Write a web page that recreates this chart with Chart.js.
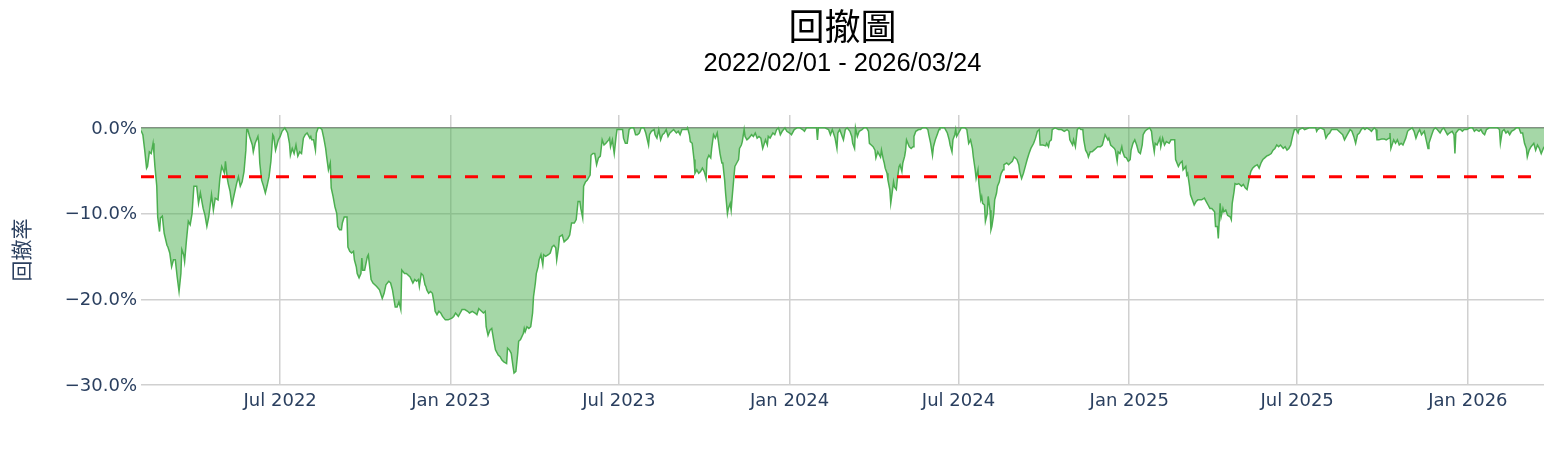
<!DOCTYPE html>
<html>
<head>
<meta charset="utf-8">
<script src="https://cdn.jsdelivr.net/npm/chart.js@4.4.1/dist/chart.umd.min.js"></script>
<style>
  html, body { margin: 0; padding: 0; background: #fff; }
  #box { width: 1555px; height: 449px; position: relative; }
</style>
</head>
<body>
<div id="box"><canvas id="chart"></canvas></div>
<script>
// 回撤資料 (每月一行,日期與數值一一對應)
const dates = [
  '2022-02-01','2022-02-03','2022-02-05','2022-02-07','2022-02-08','2022-02-10','2022-02-12','2022-02-14','2022-02-15','2022-02-16','2022-02-18','2022-02-19','2022-02-21','2022-02-22','2022-02-24','2022-02-26',
  '2022-03-01','2022-03-02','2022-03-04','2022-03-06','2022-03-08','2022-03-10','2022-03-12','2022-03-14','2022-03-16','2022-03-17','2022-03-19','2022-03-20','2022-03-22','2022-03-24','2022-03-26','2022-03-28','2022-03-30',
  '2022-04-02','2022-04-04','2022-04-06','2022-04-09','2022-04-11','2022-04-13','2022-04-15','2022-04-18','2022-04-20','2022-04-22','2022-04-25','2022-04-27','2022-04-29',
  '2022-05-02','2022-05-03','2022-05-05','2022-05-06','2022-05-08','2022-05-10','2022-05-12','2022-05-15','2022-05-17','2022-05-19','2022-05-21','2022-05-23','2022-05-25','2022-05-26','2022-05-27','2022-05-29',
  '2022-06-01','2022-06-02','2022-06-04','2022-06-07','2022-06-08','2022-06-09','2022-06-11','2022-06-13','2022-06-15','2022-06-17','2022-06-19','2022-06-21','2022-06-23','2022-06-24','2022-06-26','2022-06-29',
  '2022-07-01','2022-07-03','2022-07-06','2022-07-09','2022-07-11','2022-07-12','2022-07-14','2022-07-16','2022-07-18','2022-07-20','2022-07-22','2022-07-24','2022-07-26','2022-07-28','2022-07-30',
  '2022-08-02','2022-08-03','2022-08-04','2022-08-06','2022-08-08','2022-08-09','2022-08-11','2022-08-13','2022-08-15','2022-08-17','2022-08-19','2022-08-20','2022-08-22','2022-08-24','2022-08-25','2022-08-27','2022-08-29','2022-08-31',
  '2022-09-01','2022-09-03','2022-09-05','2022-09-06','2022-09-08','2022-09-11','2022-09-12','2022-09-14','2022-09-16','2022-09-18','2022-09-19','2022-09-21','2022-09-22','2022-09-24','2022-09-26','2022-09-27','2022-09-28','2022-09-30',
  '2022-10-03','2022-10-04','2022-10-05','2022-10-07','2022-10-09','2022-10-13','2022-10-16','2022-10-19','2022-10-21','2022-10-23','2022-10-26','2022-10-28','2022-10-30',
  '2022-11-02','2022-11-04','2022-11-06','2022-11-08','2022-11-09','2022-11-12','2022-11-14','2022-11-16','2022-11-18','2022-11-21','2022-11-23','2022-11-25','2022-11-27','2022-11-28','2022-11-30',
  '2022-12-02','2022-12-04','2022-12-05','2022-12-06','2022-12-08','2022-12-10','2022-12-12','2022-12-14','2022-12-15','2022-12-17','2022-12-19','2022-12-21','2022-12-23','2022-12-26','2022-12-29',
  '2023-01-02','2023-01-04','2023-01-06','2023-01-09','2023-01-11','2023-01-13','2023-01-16','2023-01-19','2023-01-21','2023-01-24','2023-01-27','2023-01-29','2023-01-31',
  '2023-02-03','2023-02-05','2023-02-07','2023-02-08','2023-02-10','2023-02-12','2023-02-14','2023-02-16','2023-02-18','2023-02-21','2023-02-23','2023-02-25','2023-02-27',
  '2023-03-02','2023-03-03','2023-03-05','2023-03-07','2023-03-09','2023-03-10','2023-03-12','2023-03-14','2023-03-15','2023-03-17','2023-03-20','2023-03-21','2023-03-22','2023-03-24','2023-03-26','2023-03-28','2023-03-30','2023-03-31',
  '2023-04-02','2023-04-03','2023-04-05','2023-04-06','2023-04-08','2023-04-10','2023-04-11','2023-04-13','2023-04-16','2023-04-18','2023-04-20','2023-04-22','2023-04-24','2023-04-25','2023-04-27','2023-04-28',
  '2023-05-01','2023-05-03','2023-05-05','2023-05-07','2023-05-09','2023-05-11','2023-05-14','2023-05-16','2023-05-18','2023-05-20','2023-05-21','2023-05-23','2023-05-24','2023-05-26','2023-05-28','2023-05-31',
  '2023-06-01','2023-06-03','2023-06-05','2023-06-07','2023-06-09','2023-06-11','2023-06-13','2023-06-15','2023-06-17','2023-06-20','2023-06-21','2023-06-22','2023-06-24','2023-06-26','2023-06-28','2023-06-29',
  '2023-07-03','2023-07-05','2023-07-06','2023-07-08','2023-07-10','2023-07-12','2023-07-14','2023-07-17','2023-07-19','2023-07-21','2023-07-23','2023-07-25','2023-07-28','2023-07-30',
  '2023-08-02','2023-08-03','2023-08-05','2023-08-08','2023-08-09','2023-08-11','2023-08-13','2023-08-15','2023-08-17','2023-08-19','2023-08-21','2023-08-23','2023-08-25','2023-08-27','2023-08-29',
  '2023-09-01','2023-09-03','2023-09-05','2023-09-07','2023-09-10','2023-09-12','2023-09-13','2023-09-15','2023-09-16','2023-09-18','2023-09-20','2023-09-21','2023-09-23','2023-09-25','2023-09-27','2023-09-29',
  '2023-10-01','2023-10-03','2023-10-04','2023-10-06','2023-10-08','2023-10-09','2023-10-11','2023-10-13','2023-10-15','2023-10-16','2023-10-18','2023-10-20','2023-10-21','2023-10-23','2023-10-24','2023-10-26','2023-10-27','2023-10-29','2023-10-30','2023-10-31',
  '2023-11-02','2023-11-03','2023-11-05','2023-11-07','2023-11-08','2023-11-10','2023-11-11','2023-11-13','2023-11-14','2023-11-16','2023-11-18','2023-11-21','2023-11-23','2023-11-25','2023-11-27','2023-11-29',
  '2023-12-01','2023-12-03','2023-12-06','2023-12-08','2023-12-09','2023-12-11','2023-12-14','2023-12-16','2023-12-18','2023-12-20','2023-12-22','2023-12-24','2023-12-27','2023-12-29',
  '2024-01-01','2024-01-03','2024-01-06','2024-01-09','2024-01-12','2024-01-15','2024-01-17','2024-01-19','2024-01-25','2024-01-30','2024-01-31',
  '2024-02-01','2024-02-08','2024-02-12','2024-02-14','2024-02-16','2024-02-19','2024-02-21','2024-02-22','2024-02-24','2024-02-26','2024-02-28',
  '2024-03-01','2024-03-03','2024-03-06','2024-03-08','2024-03-09','2024-03-11','2024-03-12','2024-03-14','2024-03-16','2024-03-19','2024-03-21','2024-03-24','2024-03-26','2024-03-27','2024-03-29','2024-03-31',
  '2024-04-02','2024-04-03','2024-04-05','2024-04-06','2024-04-08','2024-04-09','2024-04-11','2024-04-12','2024-04-13','2024-04-15','2024-04-16','2024-04-18','2024-04-19','2024-04-20','2024-04-22','2024-04-23','2024-04-25','2024-04-26','2024-04-28','2024-04-29',
  '2024-05-01','2024-05-02','2024-05-04','2024-05-05','2024-05-06','2024-05-09','2024-05-11','2024-05-13','2024-05-14','2024-05-16','2024-05-19','2024-05-21','2024-05-23','2024-05-27','2024-05-29','2024-05-30',
  '2024-06-01','2024-06-03','2024-06-04','2024-06-06','2024-06-08','2024-06-10','2024-06-11','2024-06-16','2024-06-19','2024-06-21','2024-06-22','2024-06-24','2024-06-25','2024-06-27','2024-06-28','2024-06-29',
  '2024-07-02','2024-07-04','2024-07-08','2024-07-10','2024-07-12','2024-07-14','2024-07-16','2024-07-17','2024-07-19','2024-07-20','2024-07-22','2024-07-23','2024-07-25','2024-07-26','2024-07-27','2024-07-29','2024-07-30',
  '2024-08-01','2024-08-02','2024-08-04','2024-08-05','2024-08-06','2024-08-08','2024-08-09','2024-08-11','2024-08-12','2024-08-14','2024-08-15','2024-08-16','2024-08-18','2024-08-19','2024-08-22','2024-08-24','2024-08-26','2024-08-28','2024-08-30',
  '2024-09-02','2024-09-04','2024-09-05','2024-09-07','2024-09-09','2024-09-11','2024-09-13','2024-09-15','2024-09-17','2024-09-20','2024-09-22','2024-09-24','2024-09-26','2024-09-27','2024-09-30',
  '2024-10-03','2024-10-04','2024-10-06','2024-10-07','2024-10-09','2024-10-10','2024-10-13','2024-10-17','2024-10-20','2024-10-23','2024-10-26','2024-10-28','2024-10-29',
  '2024-11-01','2024-11-02','2024-11-04','2024-11-06','2024-11-08','2024-11-10','2024-11-12','2024-11-13','2024-11-15','2024-11-17','2024-11-18','2024-11-20','2024-11-22','2024-11-24','2024-11-26','2024-11-28',
  '2024-12-01','2024-12-03','2024-12-05','2024-12-06','2024-12-09','2024-12-10','2024-12-12','2024-12-14','2024-12-16','2024-12-17','2024-12-19','2024-12-20','2024-12-22','2024-12-24','2024-12-25','2024-12-27','2024-12-29','2024-12-31',
  '2025-01-02','2025-01-03','2025-01-05','2025-01-07','2025-01-09','2025-01-11','2025-01-13','2025-01-15','2025-01-16','2025-01-18','2025-01-20','2025-01-23','2025-01-25','2025-01-26','2025-01-28','2025-01-29','2025-01-31',
  '2025-02-03','2025-02-04','2025-02-06','2025-02-08','2025-02-10','2025-02-13','2025-02-15','2025-02-17','2025-02-19','2025-02-20','2025-02-23','2025-02-25','2025-02-27','2025-02-28',
  '2025-03-03','2025-03-04','2025-03-05','2025-03-07','2025-03-08','2025-03-10','2025-03-12','2025-03-14','2025-03-16','2025-03-18','2025-03-20','2025-03-23','2025-03-25','2025-03-27','2025-03-29','2025-03-31',
  '2025-04-03','2025-04-04','2025-04-06','2025-04-07','2025-04-09','2025-04-10','2025-04-12','2025-04-13','2025-04-15','2025-04-17','2025-04-20','2025-04-21','2025-04-22','2025-04-24','2025-04-25','2025-04-27','2025-04-29',
  '2025-05-02','2025-05-04','2025-05-06','2025-05-08','2025-05-10','2025-05-12','2025-05-14','2025-05-16','2025-05-19','2025-05-21','2025-05-23','2025-05-25','2025-05-27','2025-05-29','2025-05-31',
  '2025-06-03','2025-06-05','2025-06-07','2025-06-09','2025-06-11','2025-06-13','2025-06-16','2025-06-18','2025-06-20','2025-06-22','2025-06-24','2025-06-26','2025-06-28','2025-06-30',
  '2025-07-02','2025-07-03','2025-07-07','2025-07-09','2025-07-14','2025-07-21','2025-07-22','2025-07-23','2025-07-26','2025-07-30',
  '2025-08-01','2025-08-03','2025-08-05','2025-08-07','2025-08-10','2025-08-13','2025-08-15','2025-08-17','2025-08-19','2025-08-21','2025-08-24','2025-08-26','2025-08-27','2025-08-29','2025-08-31',
  '2025-09-02','2025-09-04','2025-09-06','2025-09-08','2025-09-10','2025-09-12','2025-09-14','2025-09-17','2025-09-19','2025-09-22','2025-09-24','2025-09-25','2025-09-27','2025-09-30',
  '2025-10-03','2025-10-05','2025-10-08','2025-10-09','2025-10-10','2025-10-13','2025-10-15','2025-10-17','2025-10-19','2025-10-21','2025-10-23','2025-10-26','2025-10-28','2025-10-30',
  '2025-11-02','2025-11-04','2025-11-06','2025-11-08','2025-11-10','2025-11-12','2025-11-15','2025-11-17','2025-11-19','2025-11-20','2025-11-23','2025-11-25','2025-11-27','2025-11-29',
  '2025-12-02','2025-12-04','2025-12-06','2025-12-08','2025-12-10','2025-12-12','2025-12-15','2025-12-17','2025-12-18','2025-12-19','2025-12-22','2025-12-24','2025-12-26','2025-12-28','2025-12-31',
  '2026-01-03','2026-01-06','2026-01-08','2026-01-10','2026-01-13','2026-01-15','2026-01-17','2026-01-19','2026-01-21','2026-01-24',
  '2026-02-02','2026-02-04','2026-02-05','2026-02-07','2026-02-09','2026-02-11','2026-02-13','2026-02-15','2026-02-17','2026-02-20','2026-02-22','2026-02-25','2026-02-27',
  '2026-03-01','2026-03-03','2026-03-05','2026-03-06','2026-03-08','2026-03-10','2026-03-13','2026-03-15','2026-03-17','2026-03-19','2026-03-21','2026-03-24'
];

const drawdown = [
  -0.3,-0.8,-2.6,-4.7,-4.5,-2.8,-3.0,-1.8,-3.0,-4.5,-6.8,-10.4,-12.1,-10.5,-10.3,-12.3,
  -13.7,-13.9,-14.6,-16.2,-15.4,-15.4,-17.4,-19.1,-17.0,-14.2,-14.8,-15.6,-13.1,-10.9,-11.3,-10.0,-6.8,
  -6.8,-8.8,-7.6,-9.4,-10.2,-11.5,-10.4,-7.8,-9.6,-8.2,-8.4,-5.9,-4.5,
  -5.3,-3.9,-5.9,-6.5,-7.4,-9.0,-8.0,-6.5,-5.7,-6.8,-6.3,-5.1,-2.6,-0.2,-0.2,-1.0,
  -2.0,-2.8,-1.8,-1.0,-1.8,-4.1,-6.1,-6.8,-7.6,-6.7,-5.7,-3.9,-0.8,-1.0,-2.6,-1.4,
  -1.0,-0.4,0,-0.6,-1.8,-3.2,-2.4,-3.0,-2.0,-3.3,-2.8,-3.0,-1.2,-0.8,-0.6,
  -1.2,-1.0,-1.4,-1.4,-2.6,-0.6,0,0,-0.2,-1.2,-2.4,-3.3,-4.9,-4.1,-7.0,-8.0,-9.2,-10.0,
  -11.5,-11.9,-11.9,-11.1,-10.4,-10.4,-13.9,-14.4,-14.6,-14.4,-15.4,-16.2,-17.0,-17.5,-17.0,-15.2,-16.6,-16.6,
  -15.0,-14.8,-15.8,-17.7,-18.1,-18.5,-18.9,-19.9,-19.3,-18.3,-17.9,-18.1,-18.9,
  -20.9,-20.9,-20.3,-21.2,-16.6,-17.0,-17.0,-17.2,-17.4,-18.1,-17.7,-17.9,-17.7,-18.5,-17.0,
  -17.2,-18.3,-18.5,-18.9,-19.3,-19.1,-19.3,-20.5,-21.4,-21.8,-21.4,-21.6,-22.0,-22.4,-22.4,
  -22.2,-22.0,-21.6,-22.0,-21.6,-21.2,-21.2,-21.4,-21.6,-21.4,-21.6,-21.8,-21.1,
  -21.4,-21.6,-21.4,-23.2,-24.2,-23.6,-23.4,-24.7,-25.9,-26.5,-26.7,-27.1,-27.3,
  -27.5,-25.7,-25.9,-26.3,-27.9,-28.6,-28.4,-26.3,-24.9,-24.7,-24.0,-23.4,-23.8,-23.2,-23.4,-23.2,-21.6,-19.7,
  -18.1,-17.0,-16.2,-15.4,-14.8,-16.0,-14.8,-15.0,-14.8,-14.6,-13.9,-13.7,-14.0,-15.4,-13.9,-12.7,
  -12.5,-13.3,-13.1,-12.9,-12.5,-11.1,-11.1,-10.7,-8.6,-8.6,-9.4,-10.5,-6.8,-6.3,-6.1,-5.5,
  -3.2,-3.0,-3.0,-4.3,-3.5,-3.3,-1.4,-2.0,-1.8,-1.4,-1.2,-2.2,-1.4,-3.0,-1.0,-0.2,
  -0.2,-0.2,-1.2,-1.8,-1.8,-0.2,0,0,-0.8,-0.8,-0.6,0,0,-0.6,
  -2.0,-0.8,-0.4,-0.2,-0.8,-1.2,-0.2,-1.4,-0.8,-0.6,-0.2,-1.0,-0.6,-0.4,-0.2,
  -0.6,-0.4,-0.8,-0.2,-0.2,-0.2,0,-0.8,-1.6,-1.8,-3.7,-5.3,-4.9,-5.3,-5.1,-4.7,
  -5.1,-5.9,-3.7,-3.2,-3.5,-2.4,-0.8,-1.2,-0.6,-1.4,-3.0,-4.1,-4.1,-6.1,-7.6,-10.0,-9.4,-8.8,-9.6,-8.2,
  -5.7,-4.5,-4.1,-3.7,-2.4,-2.0,-1.6,-0.2,-1.0,-1.4,-1.2,-0.8,-1.0,-0.6,-1.2,-1.0,
  -1.2,-2.4,-1.4,-2.0,-1.0,-1.2,-0.6,-0.8,-0.2,0,-0.8,-0.4,0,-0.4,
  -0.6,-0.8,-0.2,0,0,-0.2,-0.4,0,0,0,-1.4,
  0,0,-0.2,-0.8,-0.2,-1.2,-2.4,-0.6,-0.2,-0.8,-1.4,
  -0.2,0,-0.4,-1.0,-1.8,-2.4,0,-1.0,-0.4,-0.2,0,0,-0.4,-1.8,-2.0,-2.2,
  -2.6,-3.5,-2.8,-3.0,-3.4,-2.6,-3.7,-4.1,-4.7,-5.3,-6.1,-7.2,-8.8,-8.0,-6.3,-6.9,-7.2,-6.1,-4.5,-4.3,
  -5.1,-4.1,-3.3,-2.6,-1.4,-2.2,-2.4,-2.2,-1.0,-0.4,-0.2,-0.2,0,0,-0.2,-0.8,
  -1.8,-3.2,-2.2,-1.4,-0.8,-0.2,0,0,-0.6,-1.4,-2.0,-2.8,-1.4,-0.8,-0.2,-1.0,
  -0.4,0,0,-0.2,-1.8,-1.4,-2.4,-3.4,-4.9,-5.9,-4.9,-6.5,-8.4,-8.0,-8.8,-9.0,-10.9,
  -10.0,-8.0,-9.6,-11.9,-11.5,-10.0,-8.4,-7.6,-6.8,-6.3,-5.7,-5.3,-4.9,-4.3,-4.1,-4.3,-4.1,-3.9,-3.4,
  -3.7,-4.3,-5.1,-5.9,-5.3,-4.5,-3.7,-3.0,-2.4,-1.8,-1.2,-0.4,-0.2,-2.0,-2.0,
  -2.1,-1.8,-2.2,-1.6,-1.4,-0.2,0,-0.2,-0.2,-0.4,-0.2,-0.4,-1.4,
  -2.0,-1.4,-2.2,-0.2,0,-0.2,-0.2,-1.4,-2.6,-3.0,-3.4,-2.8,-2.8,-2.6,-2.4,-2.2,
  -2.2,-2.0,-1.2,-0.8,-1.4,-1.2,-2.0,-2.2,-2.4,-2.6,-3.9,-2.8,-3.0,-2.2,-2.8,-3.4,-3.5,-3.9,
  -3.7,-2.6,-1.8,-1.4,-2.0,-2.8,-3.0,-2.0,-0.8,-0.4,-0.2,0,-0.4,-1.4,-2.8,-1.8,-2.0,
  -1.2,-2.2,-1.2,-2.0,-1.6,-1.8,-1.4,-1.4,-1.4,-3.7,-4.5,-4.1,-3.9,-4.9,
  -4.5,-5.5,-5.3,-6.8,-7.8,-8.4,-9.0,-8.6,-8.4,-8.4,-8.4,-8.2,-8.6,-9.0,-9.4,-9.4,
  -9.8,-11.5,-11.5,-12.9,-8.8,-10.4,-9.4,-9.8,-9.6,-10.2,-10.4,-10.7,-8.8,-7.4,-6.5,-6.6,-6.5,
  -6.8,-6.6,-7.0,-7.2,-6.1,-5.1,-4.7,-4.5,-4.3,-4.7,-4.1,-3.7,-3.5,-3.3,-3.2,
  -3.0,-2.6,-2.4,-2.0,-2.2,-2.0,-2.4,-2.2,-2.6,-2.4,-2.0,-1.0,-0.2,-0.2,
  -0.6,-0.2,0,-0.2,0,0,-0.4,-0.2,0,-0.2,
  -1.2,-0.8,-0.6,-0.2,-0.2,-0.2,-0.4,-0.6,-0.8,-1.4,-0.8,-0.4,-0.2,-0.4,-1.0,
  -1.8,-0.8,-0.6,-0.2,0,-0.2,0,-0.2,-0.4,0,-0.2,-1.4,-1.4,-1.3,
  -1.3,-1.4,-1.2,-0.6,-2.4,-1.4,-1.8,-1.4,-2.0,-1.8,-2.0,-1.2,-0.4,-0.2,
  0,-0.4,-1.2,-0.6,-0.2,-0.8,-0.4,-1.4,-2.4,-1.8,-0.8,-0.2,0,-0.2,
  -0.6,-0.2,0,-0.4,-0.8,-0.6,-0.4,-0.8,-3.0,-0.6,-0.2,-0.2,-0.4,-0.2,-0.2,
  0,0,-0.4,-0.2,-0.4,-0.2,-0.6,-0.8,-0.2,0,
  0,-0.2,-1.8,-0.4,-0.2,-0.6,-0.4,-0.8,-0.4,-0.2,0,0,-0.6,
  -0.6,-1.8,-2.4,-3.4,-2.6,-2.2,-1.8,-2.6,-2.0,-2.4,-3.0,-2.2
];

// 紅色虛線 (平均回撤水準)
const refLevel = -5.7;

// 座標軸刻度
const tickDates = ['2022-07-01','2023-01-01','2023-07-01','2024-01-01','2024-07-01','2025-01-01','2025-07-01','2026-01-01'];
const tickLabels = ['Jul 2022','Jan 2023','Jul 2023','Jan 2024','Jul 2024','Jan 2025','Jul 2025','Jan 2026'];
const yTicks = [-30, -20, -10, 0];

const axisFont = { family: '"DejaVu Sans", Verdana, sans-serif', size: 18 };
const axisColor = '#2a3f5f';
const cjkFont = '"Noto Sans CJK TC", "Noto Sans CJK SC", sans-serif';

const startMs = Date.parse(dates[0]);
const endMs = Date.parse(dates[dates.length - 1]);

const serie = dates.map((d, i) => ({ x: Date.parse(d), y: drawdown[i] }));
const refLine = [{ x: startMs, y: refLevel }, { x: endMs, y: refLevel }];

const ctx = document.getElementById('chart').getContext('2d');

new Chart(ctx, {
    type: 'line',
    data: {
        datasets: [
            {
                data: refLine,
                borderColor: '#ff0000',
                borderWidth: 3,
                borderDash: [13, 14],
                pointRadius: 0,
                fill: false,
                order: 0
            },
            {
                data: serie,
                borderColor: '#4caf50',
                backgroundColor: 'rgba(76,175,80,0.5)',
                borderWidth: 1.5,
                pointRadius: 0,
                tension: 0,
                fill: 'origin',
                order: 1
            }
        ]
    },
    options: {
        responsive: true,
        maintainAspectRatio: false,
        animation: false,
        layout: { padding: { left: 0, right: 11, top: 0, bottom: 0 } },
        plugins: {
            legend: { display: false },
            tooltip: { enabled: false },
            title: {
                display: true,
                text: '回撤圖',
                fullSize: false,
                color: '#000',
                font: { family: cjkFont, size: 36, weight: 'normal', lineHeight: 1.2 },
                padding: { top: 5, bottom: 0 }
            },
            subtitle: {
                display: true,
                text: '2022/02/01 - 2026/03/24',
                fullSize: false,
                color: '#000',
                font: { family: '"Liberation Sans", Arial, sans-serif', size: 25.5, weight: 'normal', lineHeight: 1.2 },
                padding: { top: 0, bottom: 36.2 }
            }
        },
        scales: {
            x: {
                type: 'linear',
                min: startMs,
                max: endMs,
                afterBuildTicks: (s) => { s.ticks = tickDates.map(d => ({ value: Date.parse(d) })); },
                afterFit: (s) => { s.height = 64; },
                ticks: {
                    autoSkip: false,
                    maxRotation: 0,
                    padding: 6,
                    color: axisColor,
                    font: axisFont,
                    callback: (v) => tickLabels[tickDates.findIndex(d => Date.parse(d) === v)]
                },
                grid: { color: '#d0d0d0', lineWidth: 1.5, drawTicks: false },
                border: { display: false }
            },
            y: {
                min: -30,
                max: 1.5,
                afterBuildTicks: (s) => { s.ticks = yTicks.map(v => ({ value: v })); },
                afterFit: (s) => { s.width = 141; },
                ticks: {
                    padding: 4,
                    labelOffset: 1,
                    color: axisColor,
                    font: axisFont,
                    callback: (v) => (v < 0 ? '\u2212' : '') + Math.abs(v).toFixed(1) + '%'
                },
                grid: {
                    color: (c) => (c.tick && c.tick.value === 0 ? '#8c8c8c' : '#d0d0d0'),
                    lineWidth: 1.5,
                    drawTicks: false
                },
                border: { display: false },
                title: {
                    display: true,
                    text: '回撤率',
                    color: axisColor,
                    font: { family: cjkFont, size: 21, lineHeight: 1.2 },
                    padding: { top: 8, bottom: 0 }
                }
            }
        }
    }
});
</script>
</body>
</html>
